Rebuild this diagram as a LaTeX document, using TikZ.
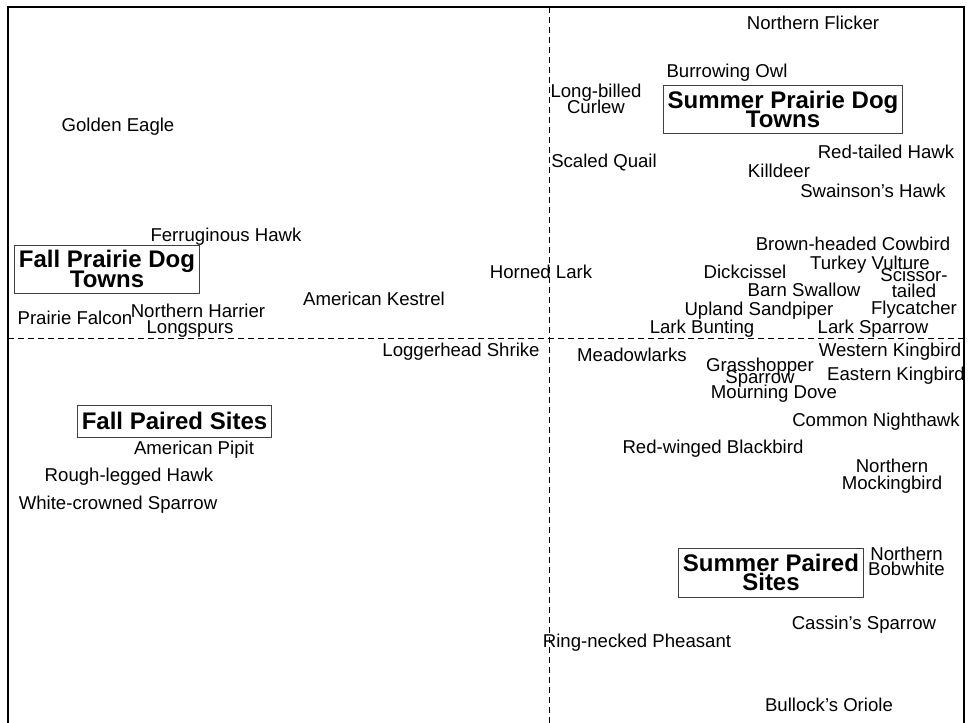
\documentclass[tikz,border=0pt]{standalone}
\usepackage{fontspec}
\setmainfont{Liberation Sans}
\usepackage{tikz}
\newcommand\tightlines{\lineskiplimit=-20pt\relax}

\begin{document}
\begin{tikzpicture}[x=0.5pt, y=-0.5pt,
	bird/.style={inner sep=0pt, font=\fontsize{9.3}{7.8}\selectfont, text height=6.7pt, text depth=0pt},
	birds/.style={inner sep=0pt, align=center, font=\fontsize{9.3}{#1}\selectfont\tightlines},
	birds/.default=7.8,
	site/.style={draw=black!75, line width=0.5pt, inner xsep=2pt, inner ysep=0pt, align=center,
		font=\bfseries\fontsize{12}{9.8}\selectfont\tightlines},
	axis/.style={line width=0.5pt, dash pattern=on 3pt off 2pt}]

\useasboundingbox (0,0) rectangle (971,723);

% frame and axes
\draw[line width=0.6pt] (8,723) -- (8,7) -- (964,7) -- (964,723);
\draw[axis] (549,7) -- (549,723);
\draw[axis] (8,338) -- (964,338);

% sites
\node[site, minimum height=24pt] (sumtowns) at (783,109.5) {Summer Prairie Dog\\Towns};
\node[site, minimum height=24pt] (falltowns) at (107,269) {Fall Prairie Dog\\Towns};
\node[site, minimum height=16pt] (fallpaired) at (174.5,421) {Fall Paired Sites};
\node[site, minimum height=24.5pt] (sumpaired) at (771,572.5) {Summer Paired\\Sites};

% species
\foreach \n/\x/\y/\t in {
	flicker/813/23/Northern Flicker, owl/727/71/Burrowing Owl, eagle/118/125/Golden Eagle,
	quail/604/161/Scaled Quail, redtail/886/152/Red-tailed Hawk, killdeer/779/171/Killdeer,
	swainson/873/191/Swainson's Hawk, ferrug/226/235/Ferruginous Hawk,
	cowbird/853/244/Brown-headed Cowbird, vulture/870/263/Turkey Vulture,
	dickcissel/745/272/Dickcissel, hornedlark/541/272/Horned Lark, swallow/804/290/Barn Swallow,
	kestrel/374/299/American Kestrel, sandpiper/759/309/Upland Sandpiper,
	falcon/75/318/Prairie Falcon, harrier/198/311/Northern Harrier, longspurs/190/327/Longspurs,
	bunting/702/327/Lark Bunting, larksparrow/873/327/Lark Sparrow,
	shrike/461/350/Loggerhead Shrike, meadowlarks/632/355/Meadowlarks,
	wkingbird/890/350/Western Kingbird, ekingbird/896/374/Eastern Kingbird,
	dove/774/392/Mourning Dove, nighthawk/876/420/Common Nighthawk,
	pipit/194/448/American Pipit, blackbird/713/447/Red-winged Blackbird,
	roughleg/129/475/Rough-legged Hawk, whitecrown/118/503/White-crowned Sparrow,
	cassin/864/623/Cassin's Sparrow, pheasant/637/641/Ring-necked Pheasant,
	oriole/829/705/Bullock's Oriole}
	\node[bird] (\n) at (\x,\y) {\t};

\node[birds] (curlew) at (596,99) {Long-billed\\Curlew};
\node[birds=8.2] (scissor) at (914,293) {Scissor-\\tailed\\Flycatcher};
\node[birds=6.3] (grasshopper) at (760,372.5) {Grasshopper\\Sparrow};
\node[birds=8.5] (mockingbird) at (892,476) {Northern\\Mockingbird};
\node[birds=7.5] (bobwhite) at (906.5,561.5) {Northern\\Bobwhite};

\end{tikzpicture}
\end{document}
